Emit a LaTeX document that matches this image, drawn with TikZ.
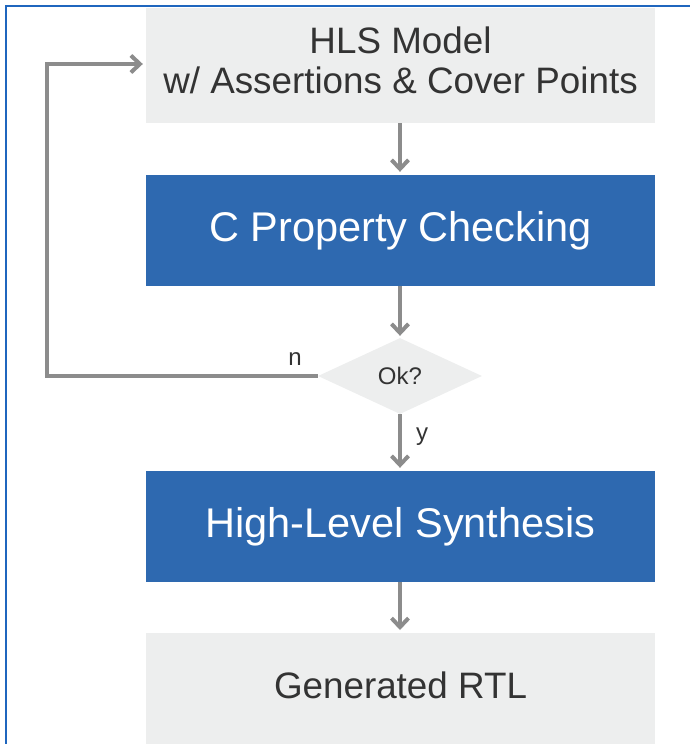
\documentclass[tikz,border=0pt]{standalone}
\usepackage{fontspec}
\setmainfont{Liberation Sans}
\usetikzlibrary{arrows.meta,shapes.geometric}
\definecolor{boxgray}{HTML}{EDEEEE}
\definecolor{boxblue}{HTML}{2E69B0}
\definecolor{linegray}{HTML}{8C8C8C}
\definecolor{textgray}{HTML}{333333}
\definecolor{framblue}{HTML}{1F66BE}
\tikzset{
  graybox/.style={fill=boxgray, text=textgray, minimum width=509pt, inner sep=0pt, align=center, font=\fontsize{36.8}{40}\selectfont},
  bluebox/.style={fill=boxblue, text=white, minimum width=509pt, minimum height=111pt, inner sep=0pt, font=\fontsize{41.5}{48}\selectfont},
  flow/.style={draw=linegray, line width=4pt, -{Straight Barb[length=9pt, width=17pt, line width=4pt]}},
  lbl/.style={text=textgray, font=\fontsize{24}{28}\selectfont, inner sep=0pt}
}
\begin{document}
\begin{tikzpicture}[x=1pt, y=-1pt]
\useasboundingbox (0,0) rectangle (690,744);
% frame edges
\draw[framblue, line width=2pt] (6,744) -- (6,6) -- (690,6);
% boxes
\node[graybox, minimum height=115pt] (hls) at (400.5,65.5) {\raisebox{5pt}{\begin{tabular}{@{}c@{}}HLS Model\\w/ Assertions \& Cover Points\end{tabular}}};
\node[bluebox] (cpc) at (400.5,230.5) {C Property Checking};
\node[diamond, fill=boxgray, minimum width=164pt, minimum height=76pt, inner sep=0pt, text=textgray, font=\fontsize{24}{28}\selectfont] (ok) at (400,376) {Ok?};
\node[bluebox] (syn) at (400.5,526.5) {High-Level Synthesis};
\node[graybox, minimum height=111pt, anchor=north] (rtl) at (400.5,633) {\raisebox{8pt}{Generated RTL}};
% connectors
\draw[flow, shorten >=3pt] (hls.south -| 400,0) -- (cpc.north -| 400,0);
\draw[flow, shorten >=2pt] (cpc.south -| 400,0) -- (ok.north);
\draw[flow, shorten >=3pt] (ok.south) -- (syn.north -| 400,0);
\draw[flow, shorten >=3pt] (syn.south -| 400,0) -- (rtl.north -| 400,0);
\coordinate (bend) at (47,376);
\draw[flow, shorten >=3pt, line join=miter] (ok.west) -- (bend) -- (bend |- 0,64) -- (hls.west |- 0,64);
% branch labels
\node[lbl] (nlab) at (295,359) {n};
\node[lbl] (ylab) at (422,437) {y};
\end{tikzpicture}
\end{document}
